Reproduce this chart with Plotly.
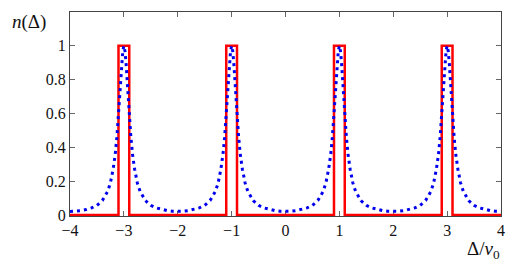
import plotly.graph_objects as go

# Data
peak_centers = [-3, -1, 1, 3]          # Δ/v0 positions of the peaks
box_half_width = 0.1                   # half width of the red rectangular peaks
box_height = 1.0
# blue dotted curve: one-sided profile around each peak (offset, value)
profile_offset = [0.0, 0.02, 0.04, 0.06, 0.08, 0.10, 0.13, 0.16, 0.20, 0.25,
                  0.30, 0.40, 0.50, 0.60, 0.70, 0.80, 0.90, 1.00]
profile_value = [1.0, 0.97, 0.90, 0.80, 0.70, 0.59, 0.46, 0.36, 0.27, 0.19,
                 0.14, 0.085, 0.057, 0.042, 0.032, 0.026, 0.022, 0.021]
x_ticks = [-4, -3, -2, -1, 0, 1, 2, 3, 4]
y_ticks = [0, 0.2, 0.4, 0.6, 0.8, 1]
y_tick_labels = ["0", "0.2", "0.4", "0.6", "0.8", "1"]

# red step curve
rx, ry = [-4], [0]
for c in peak_centers:
    rx += [c - box_half_width, c - box_half_width, c + box_half_width, c + box_half_width]
    ry += [0, box_height, box_height, 0]
rx.append(4); ry.append(0)

# blue curve
bx, by = [], []
for c in peak_centers:
    for o, v in zip(reversed(profile_offset), reversed(profile_value)):
        bx.append(c - o); by.append(v)
    for o, v in zip(profile_offset[1:], profile_value[1:]):
        bx.append(c + o); by.append(v)

font = "Liberation Serif, Times New Roman, Times, serif"
fig = go.Figure()
fig.add_trace(go.Scatter(x=rx, y=ry, mode="lines",
                         line=dict(color="#ff0000", width=2.5), hoverinfo="skip"))
fig.add_trace(go.Scatter(x=bx, y=by, mode="lines",
                         line=dict(color="#0000ee", width=3, dash="3px,4px"),
                         hoverinfo="skip"))

axis_common = dict(showgrid=False, zeroline=False, showline=True, linecolor="#444",
                   linewidth=1, mirror="allticks", ticks="inside", ticklen=5,
                   tickcolor="#666", tickwidth=1.2, layer="below traces",
                   tickfont=dict(family=font, size=16, color="#111"))
fig.update_xaxes(range=[-4, 4], tickvals=x_ticks, **axis_common)
fig.update_yaxes(range=[-0.006, 1.2], tickvals=y_ticks, ticktext=y_tick_labels,
                 **axis_common)

fig.update_layout(
    width=517, height=268, showlegend=False,
    margin=dict(l=70, r=16, t=12, b=52),
    plot_bgcolor="white", paper_bgcolor="white",
    font=dict(family=font),
    annotations=[
        dict(text="<i>n</i>(Δ)", xref="paper", yref="paper", x=-0.095, y=0.95,
             xanchor="center", yanchor="middle", showarrow=False,
             font=dict(family=font, size=19, color="#111")),
        dict(text="Δ/<i>v</i><sub>0</sub>", xref="paper", yref="paper", x=1.002, y=-0.165,
             xanchor="right", yanchor="middle", showarrow=False,
             font=dict(family=font, size=19, color="#111")),
    ],
)
fig.write_html("out.html", config={"displayModeBar": False},
               post_script="document.body.style.margin='0';document.body.style.padding='0';")
